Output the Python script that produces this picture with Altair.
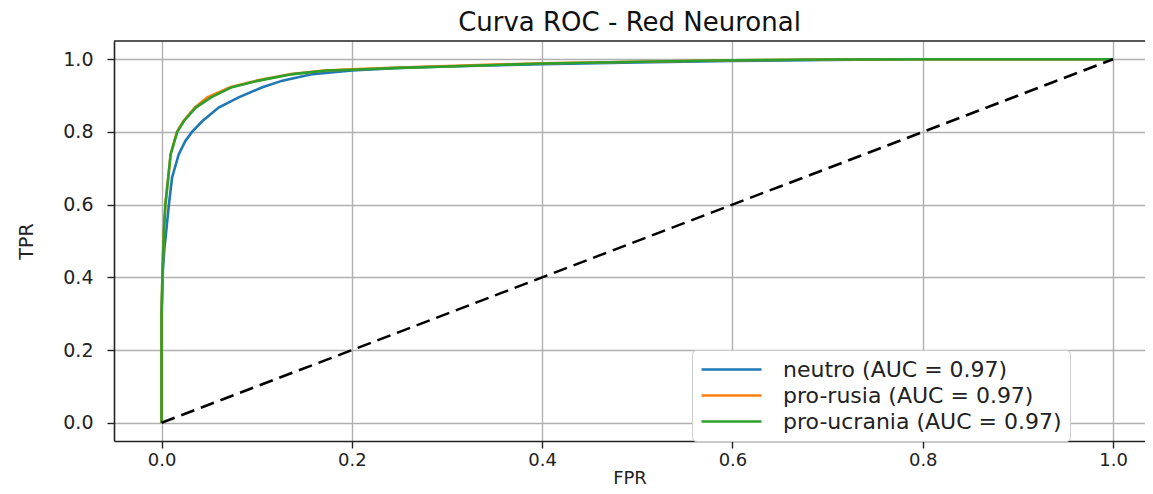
import altair as alt
import pandas as pd

# ---- data ----
neutro_fpr = [0, 0, 0.0014, 0.003, 0.005, 0.0077, 0.011, 0.018, 0.025, 0.032, 0.043, 0.06, 0.081,
              0.106, 0.127, 0.159, 0.2, 0.25, 0.3, 0.4, 0.5, 0.6, 0.7, 0.8, 1.0]
neutro_tpr = [0, 0.3, 0.42, 0.48, 0.53, 0.6, 0.674, 0.738, 0.775, 0.8, 0.83, 0.867, 0.895,
              0.923, 0.941, 0.959, 0.969, 0.976, 0.98, 0.986, 0.991, 0.995, 0.998, 1.0, 1.0]

rusia_fpr = [0, 0, 0.001, 0.0025, 0.004, 0.007, 0.0095, 0.016, 0.023, 0.035, 0.048, 0.072, 0.1,
             0.136, 0.172, 0.2, 0.25, 0.3, 0.4, 0.5, 0.6, 0.7, 0.8, 1.0]
rusia_tpr = [0, 0.3, 0.42, 0.53, 0.6, 0.674, 0.738, 0.8, 0.83, 0.867, 0.895, 0.923, 0.941,
             0.959, 0.969, 0.972, 0.977, 0.981, 0.989, 0.993, 0.997, 0.999, 1.0, 1.0]

ucrania_fpr = [0, 0, 0.001, 0.0025, 0.004, 0.007, 0.0095, 0.0165, 0.0235, 0.036, 0.052, 0.074, 0.102,
               0.138, 0.173, 0.2, 0.25, 0.3, 0.4, 0.5, 0.6, 0.7, 0.8, 1.0]
ucrania_tpr = [0, 0.3, 0.42, 0.53, 0.6, 0.674, 0.738, 0.8, 0.83, 0.867, 0.895, 0.923, 0.941,
               0.959, 0.969, 0.971, 0.976, 0.98, 0.988, 0.993, 0.997, 0.999, 1.0, 1.0]

labels = ["neutro (AUC = 0.97)", "pro-rusia (AUC = 0.97)", "pro-ucrania (AUC = 0.97)"]
colors = ["#1f77b4", "#ff7f0e", "#2ca02c"]
ticks = [0.0, 0.2, 0.4, 0.6, 0.8, 1.0]
diag_x = [0.0, 1.0]
diag_y = [0.0, 1.0]
y_top = 1.05

rows = []
for lab, fx, ty in zip(labels, [neutro_fpr, rusia_fpr, ucrania_fpr], [neutro_tpr, rusia_tpr, ucrania_tpr]):
    for i, (a, b) in enumerate(zip(fx, ty)):
        rows.append({"serie": lab, "fpr": a, "tpr": b, "i": i})
df = pd.DataFrame(rows)
diag = pd.DataFrame({"fpr": diag_x, "tpr": diag_y})

FONT = "DejaVu Sans"
xscale = alt.Scale(domain=[-0.05, 1.0336], nice=False, zero=False)
yscale = alt.Scale(domain=[-0.05, y_top], nice=False, zero=False)

xaxis = alt.Axis(values=ticks, format=".1f", title="FPR", grid=True)
yaxis = alt.Axis(values=ticks, format=".1f", title="TPR", grid=True)

curves = alt.Chart(df).mark_line(strokeWidth=2.6, clip=True).encode(
    x=alt.X("fpr:Q", scale=xscale, axis=xaxis),
    y=alt.Y("tpr:Q", scale=yscale, axis=yaxis),
    color=alt.Color("serie:N", scale=alt.Scale(domain=labels, range=colors),
                    legend=alt.Legend(title=None, orient="none", legendX=578, legendY=309,
                                      symbolType="M-1,0H5", symbolSize=400, symbolStrokeWidth=2.6,
                                      labelFontSize=22, labelFont=FONT, labelColor="#222222",
                                      labelLimit=0, labelOffset=60, rowPadding=3, padding=8,
                                      fillColor="white", strokeColor="#cccccc", cornerRadius=4)),
    order="i:Q",
)

diagonal = alt.Chart(diag).mark_line(color="black", strokeWidth=2.6, strokeDash=[14, 7]).encode(
    x=alt.X("fpr:Q", scale=xscale),
    y=alt.Y("tpr:Q", scale=yscale),
)

top_frame = alt.Chart(pd.DataFrame({"t": [y_top]})).mark_rule(color="#222222", strokeWidth=1.6).encode(
    y=alt.Y("t:Q", scale=yscale),
)

chart = alt.layer(curves, diagonal, top_frame).properties(
    width=1031, height=400,
    title=alt.Title("Curva ROC - Red Neuronal", font=FONT, fontSize=26, fontWeight="normal",
                    color="#111111", offset=4, anchor="middle"),
    autosize=alt.AutoSizeParams(type="none"),
    padding={"left": 106, "top": 33, "right": 0, "bottom": 45},
).configure_view(stroke=None).configure_axis(
    domainColor="#222222", domainWidth=1.6, tickColor="#222222", tickWidth=1.4, tickSize=7,
    gridColor="#b0b0b0", gridWidth=1.4, gridOpacity=1,
    labelFont=FONT, labelFontSize=19, labelColor="#222222",
    titleFont=FONT, titleFontSize=19, titleFontWeight="normal", titleColor="#222222",
).configure_axisY(labelPadding=14, titlePadding=26).configure_axisX(
    labelPadding=3, titlePadding=0, labelFontSize=18, titleFontSize=18)

chart.save("out.html", embed_options={"renderer": "svg", "actions": False})
